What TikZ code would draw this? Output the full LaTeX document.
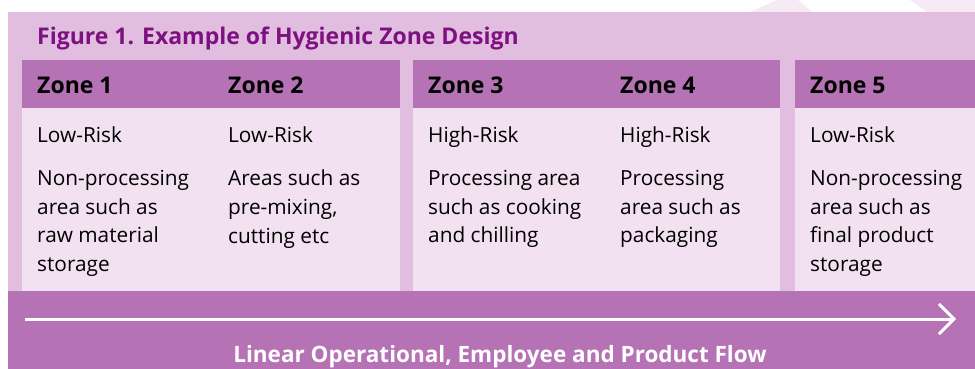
\documentclass[tikz,border=0pt]{standalone}
\usepackage{fontspec}
\setmainfont{Open Sans}
\usetikzlibrary{arrows.meta}
\definecolor{panelback}{HTML}{E1BEDF}
\definecolor{headback}{HTML}{B572B4}
\definecolor{bodyback}{HTML}{F2E2F1}
\definecolor{titlecol}{HTML}{7E1180}
\definecolor{markcol}{HTML}{F6EAF5}
\begin{document}
\begin{tikzpicture}[x=1pt, y=-1pt,
  zonehead/.style={anchor=base west, inner sep=0pt, font=\fontsize{23}{28}\selectfont\bfseries},
  zonetext/.style={anchor=north west, inner sep=0pt, align=left, font=\fontsize{20.8}{28.7}\selectfont,
    execute at begin node=\strut}]
	\useasboundingbox (0,0) rectangle (975,369);
	\fill[white] (0,0) rectangle (975,369);
	\fill[markcol] (750,12) -- (777,0) -- (798,0) -- (812,12) -- cycle;
	\fill[markcol] (910,0) -- (927,12) -- (975,12) -- (975,0) -- cycle;
	\fill[panelback] (8,12) rectangle (975,369);
	\node[anchor=base west, inner sep=0pt, text=titlecol, font=\fontsize{23}{28}\selectfont\bfseries]
		(title) at (37,45) {Figure 1. Example of Hygienic Zone Design};
	\foreach \l/\r in {22/400, 413/780, 795/975} {
		\fill[headback] (\l,60) rectangle (\r,108);
		\fill[bodyback] (\l,108) rectangle (\r,291);
	}
	\fill[headback] (8,291) rectangle (975,369);
	\node[zonehead] (z1) at (37,93) {Zone 1};
	\node[zonehead] (z2) at (228,93) {Zone 2};
	\node[zonehead] (z3) at (428,93) {Zone 3};
	\node[zonehead] (z4) at (620,93) {Zone 4};
	\node[zonehead] (z5) at (810,93) {Zone 5};
	\node[zonetext] (r1) at (37,121.9) {Low-Risk};
	\node[zonetext] (r2) at (228,121.9) {Low-Risk};
	\node[zonetext] (r3) at (428,121.9) {High-Risk};
	\node[zonetext] (r4) at (620,121.9) {High-Risk};
	\node[zonetext] (r5) at (810,121.9) {Low-Risk};
	\node[zonetext] (d1) at (37,169.9) {Non-processing\\area such as\\raw material\\storage};
	\node[zonetext] (d2) at (228,169.9) {Areas such as\\pre-mixing,\\cutting etc};
	\node[zonetext] (d3) at (428,169.9) {Processing area\\such as cooking\\and chilling};
	\node[zonetext] (d4) at (620,169.9) {Processing\\area such as\\packaging};
	\node[zonetext] (d5) at (810,169.9) {Non-processing\\area such as\\final product\\storage};
	\coordinate (flowstart) at (25,319);
	\coordinate (flowend) at (956,319);
	\draw[white, line width=3pt, -{Straight Barb[length=15pt, width=30pt]}] (flowstart) -- (flowend);
	\node[anchor=base, inner sep=0pt, text=white, font=\fontsize{22.5}{27}\selectfont\bfseries]
		(flow) at (500,362) {Linear Operational, Employee and Product Flow};
\end{tikzpicture}
\end{document}
